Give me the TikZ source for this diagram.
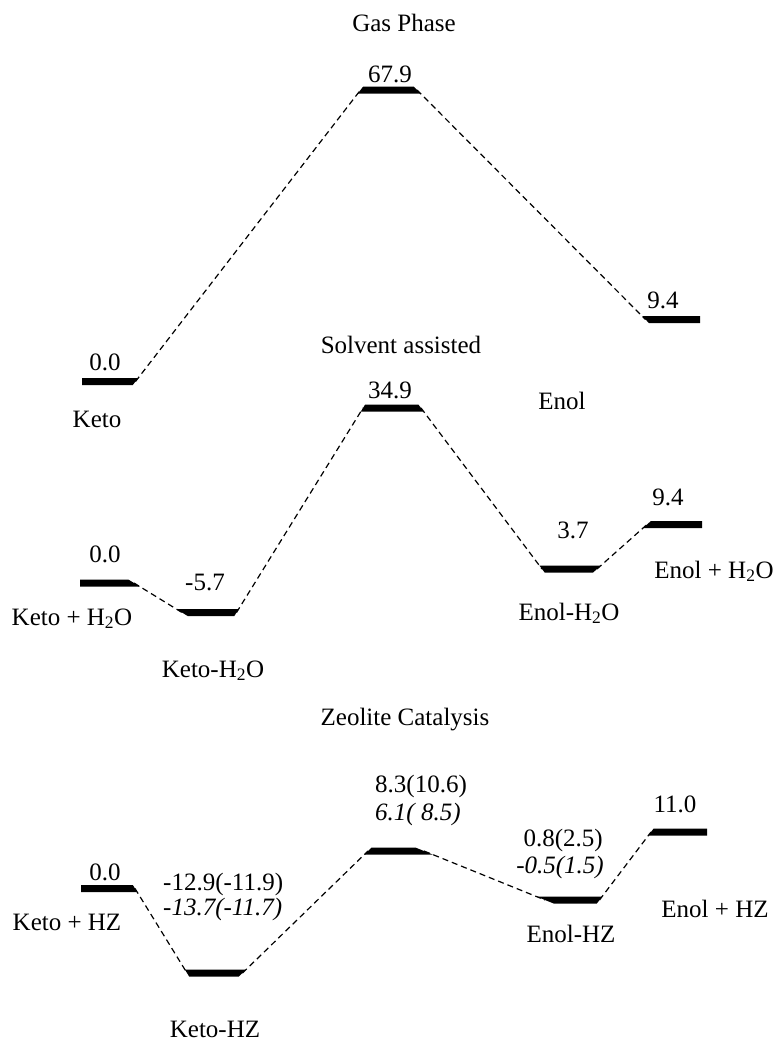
\documentclass[tikz,border=0pt]{standalone}
\usepackage{fontspec}
\setmainfont{Liberation Serif}
\usetikzlibrary{calc}
\tikzset{
  lbl/.style={inner sep=0pt, anchor=base, font=\fontsize{25}{30}\selectfont},
  lblw/.style={lbl, anchor=base west},
  lble/.style={lbl, anchor=base east},
  ital/.style={font=\fontsize{25}{30}\selectfont\itshape},
  conn/.style={line width=1.2pt, dash pattern=on 6pt off 4pt},
}
% Energy level: thick bar between two end points; an end that meets a
% connector is cut along the connector's direction (#3, #4 = neighbours).
\newcommand\levelbar[4]{%
  \fill let \p1=(#1), \p2=(#3), \p3=(#2), \p4=(#4) in
    ({\x1+3.5*((\x2)-(\x1))/((\y2)-(\y1))}, {\y1+3.5pt}) --
    ({\x3+3.5*((\x4)-(\x3))/((\y4)-(\y3))}, {\y3+3.5pt}) --
    ({\x3-3.5*((\x4)-(\x3))/((\y4)-(\y3))}, {\y3-3.5pt}) --
    ({\x1-3.5*((\x2)-(\x1))/((\y2)-(\y1))}, {\y1-3.5pt}) -- cycle;}
\begin{document}
\begin{tikzpicture}[x=1pt, y=-1pt]
\useasboundingbox (0,0) rectangle (776,1041);

% ---------- bar end points ----------
% gas phase
\coordinate (gk-l)  at (82,381.5);  \coordinate (gk-r)  at (135.5,381.5);
\coordinate (gts-l) at (360.5,90);  \coordinate (gts-r) at (417,90);
\coordinate (ge-l)  at (645.5,319.5); \coordinate (ge-r) at (700,319.5);
% solvent assisted
\coordinate (sk-l)  at (80,583);    \coordinate (sk-r)  at (134,583);
\coordinate (skw-l) at (182,612.5); \coordinate (skw-r) at (236.5,612.5);
\coordinate (sts-l) at (363,408);   \coordinate (sts-r) at (421,408);
\coordinate (sew-l) at (542,569);   \coordinate (sew-r) at (597,569);
\coordinate (se-l)  at (647,524.5); \coordinate (se-r)  at (702,524.5);
% zeolite catalysis
\coordinate (zk-l)  at (81,888.5);  \coordinate (zk-r)  at (135,888.5);
\coordinate (zkh-l) at (187,973);   \coordinate (zkh-r) at (242.5,973);
\coordinate (zts-l) at (368,851);   \coordinate (zts-r) at (424,851);
\coordinate (zeh-l) at (545,900);   \coordinate (zeh-r) at (599.5,900);
\coordinate (ze-l)  at (651,832);   \coordinate (ze-r)  at (707,832);

% ---------- levels ----------
\levelbar{gk-l}{gk-r}{[yshift=10pt]gk-l}{gts-l}
\levelbar{gts-l}{gts-r}{gk-r}{ge-l}
\levelbar{ge-l}{ge-r}{gts-r}{[yshift=10pt]ge-r}

\levelbar{sk-l}{sk-r}{[yshift=10pt]sk-l}{skw-l}
\levelbar{skw-l}{skw-r}{sk-r}{sts-l}
\levelbar{sts-l}{sts-r}{skw-r}{sew-l}
\levelbar{sew-l}{sew-r}{sts-r}{se-l}
\levelbar{se-l}{se-r}{sew-r}{[yshift=10pt]se-r}

\levelbar{zk-l}{zk-r}{[yshift=10pt]zk-l}{zkh-l}
\levelbar{zkh-l}{zkh-r}{zk-r}{zts-l}
\levelbar{zts-l}{zts-r}{zkh-r}{zeh-l}
\levelbar{zeh-l}{zeh-r}{zts-r}{ze-l}
\levelbar{ze-l}{ze-r}{zeh-r}{[yshift=10pt]ze-r}

% ---------- connectors ----------
\draw[conn] (gk-r) -- (gts-l);
\draw[conn] (gts-r) -- (ge-l);

\draw[conn] (sk-r) -- (skw-l);
\draw[conn] (skw-r) -- (sts-l);
\draw[conn] (sts-r) -- (sew-l);
\draw[conn] (sew-r) -- (se-l);

\draw[conn] (zk-r) -- (zkh-l);
\draw[conn] (zkh-r) -- (zts-l);
\draw[conn] (zts-r) -- (zeh-l);
\draw[conn] (zeh-r) -- (ze-l);

% ---------- gas phase labels ----------
\node[lbl] (t-gas) at (404,32) {Gas Phase};
\node[lbl] (v-gts) at (390,82) {67.9};
\node[lbl] (v-ge) at (663,308) {9.4};
\node[lbl] (v-gk) at (105,370) {0.0};
\node[lbl] (n-gk) at (97,427) {Keto};
\node[lbl] (n-ge) at (562,409) {Enol};

% ---------- solvent assisted labels ----------
\node[lbl] (t-solv) at (401,353) {Solvent assisted};
\node[lbl] (v-sts) at (390,398) {34.9};
\node[lbl] (v-se) at (668,505) {9.4};
\node[lbl] (v-sew) at (573,538) {3.7};
\node[lbl] (v-sk) at (105,562) {0.0};
\node[lbl] (v-skw) at (205,590) {-5.7};
\node[lbl] (n-se) at (714,578) {Enol + H\textsubscript{2}O};
\node[lbl] (n-sk) at (72,625) {Keto + H\textsubscript{2}O};
\node[lbl] (n-sew) at (569,620) {Enol-H\textsubscript{2}O};
\node[lbl] (n-skw) at (213,677) {Keto-H\textsubscript{2}O};

% ---------- zeolite catalysis labels ----------
\node[lbl] (t-zeo) at (405,725) {Zeolite Catalysis};
\node[lblw] (v-zts) at (375,792) {8.3(10.6)};
\node[lblw, ital] (w-zts) at (375,820) {6.1( 8.5)};
\node[lblw] (v-zkh) at (163,890) {-12.9(-11.9)};
\node[lblw, ital] (w-zkh) at (163,915) {-13.7(-11.7)};
\node[lble] (v-zeh) at (603,846) {0.8(2.5)};
\node[lble, ital] (w-zeh) at (604,873) {-0.5(1.5)};
\node[lbl] (v-ze) at (675,812) {11.0};
\node[lbl] (v-zk) at (105,880) {0.0};
\node[lbl] (n-zk) at (67,930) {Keto + HZ};
\node[lbl] (n-ze) at (715,917) {Enol + HZ};
\node[lbl] (n-zeh) at (571,942) {Enol-HZ};
\node[lbl] (n-zkh) at (215,1037) {Keto-HZ};
\end{tikzpicture}
\end{document}
